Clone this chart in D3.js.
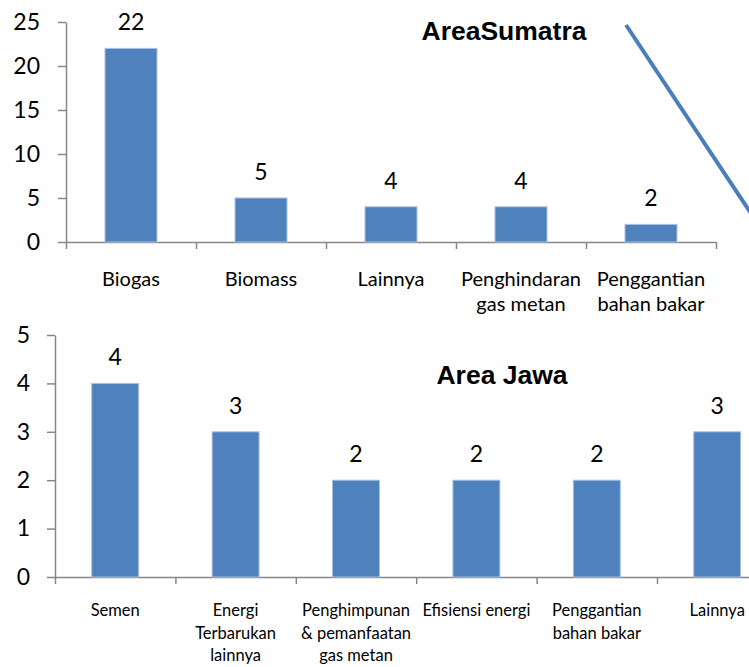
<!DOCTYPE html>
<html>
<head>
<meta charset="utf-8">
<script src="https://cdn.jsdelivr.net/npm/d3@7"></script>
<style>
  body { margin: 0; background: #fff; }
  svg { display: block; }
  .axis path, .axis line { stroke: #868686; stroke-width: 1.5; }
  .axis text { font-family: Lato, "Open Sans", sans-serif; fill: #000; }
</style>
</head>
<body>
<div id="chart"></div>
<script>
// Area Sumatra
var sumatraCats = ["Biogas", "Biomass", "Lainnya", "Penghindaran\ngas metan", "Penggantian\nbahan bakar"];
var sumatraVals = [22, 5, 4, 4, 2];
var sumatraTicks = [0, 5, 10, 15, 20, 25];

// Area Jawa
var jawaCats = ["Semen", "Energi\nTerbarukan\nlainnya", "Penghimpunan\n& pemanfaatan\ngas metan", "Efisiensi energi", "Penggantian\nbahan bakar", "Lainnya"];
var jawaVals = [4, 3, 2, 2, 2, 3];
var jawaTicks = [0, 1, 2, 3, 4, 5];

var width = 749, height = 667;
var barColor = "#4f81bd";

var svg = d3.select("#chart").append("svg")
  .attr("width", width)
  .attr("height", height);

function draw_panel(opt) {
  var g = svg.append("g");

  var x = d3.scaleLinear()
    .domain([0, opt.cats.length])
    .range([opt.left, opt.left + opt.band * opt.cats.length]);
  var y = d3.scaleLinear()
    .domain([0, d3.max(opt.ticks)])
    .range([opt.bottom, opt.top]);

  // y axis
  var yAxis = g.append("g")
    .attr("class", "axis")
    .attr("transform", "translate(" + opt.left + ",0)")
    .call(d3.axisLeft(y).tickValues(opt.ticks).tickFormat(d3.format("d"))
      .tickSize(8).tickSizeOuter(0).tickPadding(opt.tickPad));
  yAxis.selectAll("text").style("font-size", opt.yFont + "px");

  // x axis, ticks on category boundaries
  g.append("g")
    .attr("class", "axis")
    .attr("transform", "translate(0," + opt.bottom + ")")
    .call(d3.axisBottom(x).tickValues(d3.range(opt.cats.length + 1)).tickSize(7).tickSizeOuter(0).tickFormat(""));

  // bars
  var bw = opt.band * opt.barFrac;
  g.selectAll(".bar")
    .data(opt.vals)
    .enter().append("rect")
    .attr("class", "bar")
    .attr("x", function(d, i) { return x(i + 0.5) - bw / 2; })
    .attr("y", function(d) { return y(d); })
    .attr("width", bw)
    .attr("height", function(d) { return y(0) - y(d); })
    .attr("fill", barColor)
    .attr("stroke", "#a9c1e0")
    .attr("stroke-width", 1);

  // value labels
  g.selectAll(".val")
    .data(opt.vals)
    .enter().append("text")
    .attr("class", "val")
    .attr("x", function(d, i) { return x(i + 0.5); })
    .attr("y", function(d) { return y(d) - 18; })
    .attr("text-anchor", "middle")
    .style("font-family", "Lato, 'Open Sans', sans-serif")
    .style("font-size", opt.valFont + "px")
    .text(function(d) { return d; });

  // category labels (multi line)
  var lab = g.selectAll(".cat")
    .data(opt.cats)
    .enter().append("text")
    .attr("class", "cat")
    .attr("text-anchor", "middle")
    .style("font-family", "Lato, 'Open Sans', sans-serif")
    .style("font-size", opt.catFont + "px");
  lab.each(function(d, i) {
    var t = d3.select(this);
    d.split("\n").forEach(function(line, k) {
      t.append("tspan")
        .attr("x", x(i + 0.5))
        .attr("y", opt.catY + k * opt.catLine)
        .text(line);
    });
  });

  // title
  g.append("text")
    .attr("x", opt.titleX)
    .attr("y", opt.titleY)
    .attr("text-anchor", "middle")
    .style("font-family", "'Liberation Sans', Arial, sans-serif")
    .style("font-weight", "bold")
    .style("font-size", "26.5px")
    .text(opt.title);
}

draw_panel({
  cats: sumatraCats, vals: sumatraVals, ticks: sumatraTicks,
  left: 66, band: 130, top: 22, bottom: 242, barFrac: 0.4,
  yFont: 23, valFont: 23, catFont: 20, catY: 286, catLine: 25, tickPad: 18,
  title: "AreaSumatra", titleX: 504, titleY: 40
});

draw_panel({
  cats: jawaCats, vals: jawaVals, ticks: jawaTicks,
  left: 55, band: 120.4, top: 335, bottom: 577, barFrac: 0.39,
  yFont: 23, valFont: 23, catFont: 16.5, catY: 616, catLine: 22.5, tickPad: 17,
  title: "Area Jawa", titleX: 502, titleY: 384
});

// decorative connector line from the original slide (cut off at the right edge)
svg.append("line")
  .attr("x1", 626).attr("y1", 25)
  .attr("x2", 760).attr("y2", 227)
  .attr("stroke", "#4a7ebb")
  .attr("stroke-width", 4);
</script>
</body>
</html>
